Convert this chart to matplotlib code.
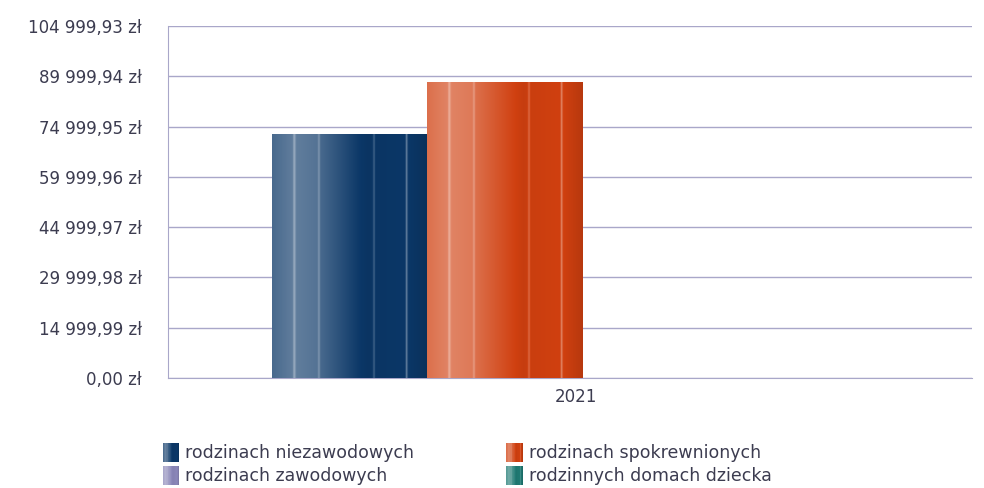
import numpy as np
import matplotlib
matplotlib.use("Agg")
import matplotlib.pyplot as plt
from matplotlib.colors import to_rgb
from matplotlib.patches import Rectangle
from matplotlib.legend_handler import HandlerBase

# data
categories = ["2021"]
series_names = ["rodzinach niezawodowych", "rodzinach spokrewnionych",
                "rodzinach zawodowych", "rodzinnych domach dziecka"]
series_values = [[72600.0], [88200.0], [0.0], [0.0]]
series_colors = ["#0b3767", "#d04010", "#8a86b8", "#1f7a73"]
tick_step = 14999.99
n_ticks = 8

text_color = "#3c3c50"
grid_color = "#a9a7c9"

# light/dark profile across a bar (positive = towards white, negative = towards black)
prof_x = [0.00, 0.13, 0.14, 0.155, 0.29, 0.30, 0.31, 0.62, 0.645, 0.655, 0.665, 0.855, 0.865, 0.875, 1.00]
prof_v = [0.25, 0.35, 0.60, 0.35, 0.30, 0.50, 0.25, -0.05, -0.03, 0.25, -0.03, 0.0, 0.40, 0.0, -0.12]


def shade_row(color, n=200):
    base = np.array(to_rgb(color))
    t = np.interp(np.linspace(0, 1, n), prof_x, prof_v)[:, None]
    row = np.where(t > 0, base + (1 - base) * t, base * (1 + t))
    return np.clip(row, 0, 1)


class StripeHandler(HandlerBase):
    def __init__(self, color):
        super().__init__()
        self.color = color

    def create_artists(self, legend, orig_handle, xdescent, ydescent, width, height, fontsize, trans):
        n = 40
        cols = shade_row(self.color, n)
        w = width / n
        arts = []
        for i in range(n):
            arts.append(Rectangle((-xdescent + i * w, -ydescent - 2), w * 1.05, height + 3,
                                  facecolor=cols[i], edgecolor="none", transform=trans))
        return arts


fig = plt.figure(figsize=(9.84, 4.88), dpi=100)
ax = fig.add_axes([168 / 984, 1 - 378 / 488, (972 - 168) / 984, (378 - 26) / 488])

plt.rcParams["font.family"] = "DejaVu Sans"

x = np.arange(len(categories))
n_series = len(series_names)
bar_w = 0.193
ymax = tick_step * (n_ticks - 1)

for i, (vals, col) in enumerate(zip(series_values, series_colors)):
    for xi, v in zip(x, vals):
        if v <= 0:
            continue
        x0 = xi + (i - n_series / 2) * bar_w
        img = shade_row(col)[None, :, :]
        ax.imshow(img, extent=(x0, x0 + bar_w, 0, v), aspect="auto", zorder=3, interpolation="bilinear")

ax.set_xlim(-0.515, 0.485)
ax.set_ylim(0, ymax)

yticks = [tick_step * k for k in range(n_ticks)]
ax.set_yticks(yticks)
ax.set_yticklabels([f"{v:,.2f} zł".replace(",", " ").replace(".", ",") for v in yticks],
                   fontsize=12, color=text_color)
ax.set_xticks(x - 0.008)
ax.set_xticklabels(categories, fontsize=12, color=text_color)
ax.tick_params(axis="y", length=0, pad=19)
ax.tick_params(axis="x", length=0, pad=7)

ax.grid(axis="y", color=grid_color, linewidth=1, zorder=0)
ax.set_axisbelow(True)
for s in ["top", "right"]:
    ax.spines[s].set_visible(False)
ax.spines["left"].set_color(grid_color)
ax.spines["bottom"].set_color(grid_color)

# legend order: column-major with 2 columns
order = [0, 2, 1, 3]
handles = [Rectangle((0, 0), 1, 1) for _ in order]
hmap = {h: StripeHandler(series_colors[i]) for h, i in zip(handles, order)}
fig.legend(handles, [series_names[i] for i in order], handler_map=hmap,
           loc="upper left", bbox_to_anchor=(154 / 984, 1 - 435 / 488), ncol=2,
           frameon=False, fontsize=12.5, labelcolor=text_color,
           handlelength=0.95, handleheight=0.9, handletextpad=0.35,
           columnspacing=5.3, labelspacing=0.3, borderpad=0)

fig.savefig("out.png", dpi=100)
